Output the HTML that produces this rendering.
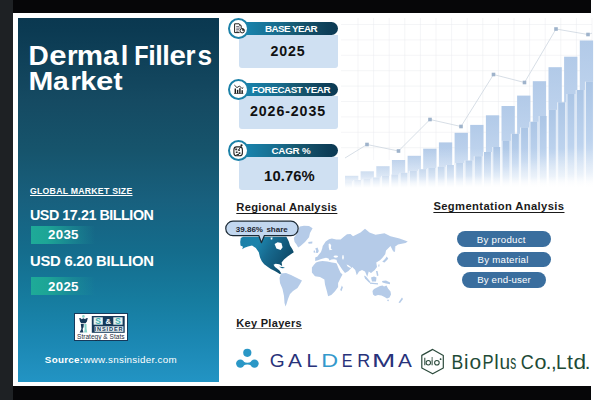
<!DOCTYPE html>
<html><head><meta charset="utf-8">
<style>
*{margin:0;padding:0;box-sizing:border-box}
html,body{width:600px;height:400px;overflow:hidden;background:#fff}
body{position:relative;font-family:"Liberation Sans",sans-serif}
.a{position:absolute}
.t{position:absolute;line-height:1;white-space:nowrap}
.b{font-weight:bold}
svg{position:absolute;left:0;top:0;width:600px;height:400px;overflow:visible}
#lp{left:18px;top:18px;width:201px;height:364px;background:linear-gradient(180deg,#0a3850 0%,#0b3a52 3.3%,#154a62 22.5%,#16546c 36.3%,#18607e 50%,#146c8c 63.7%,#167c9f 77.5%,#1b87b2 88.5%,#2191c0 97.5%,#2294c4 100%)}
.yr{left:31px;width:64px;height:18px;background:linear-gradient(90deg,#1eaa98 0%,#1da596 25%,rgba(28,150,150,0.55) 65%,rgba(28,150,150,0) 100%)}
.pill{height:13px;border-radius:0 6.5px 6.5px 0;background:linear-gradient(90deg,#1a8ab5 0%,#1880a8 12%,#186888 45%,#175a72 57%,#144d66 72%,#0d3e58 90%,#0c3a54 100%)}
.box{background:#cfe0f2;border-radius:0 0 3px 3px}
.circ{width:21px;height:21px;border-radius:50%;border:2.2px solid #1c81a8;background:#fff}
.seg{height:15.6px;border-radius:8px;background:#3a6e9e}
.ul{text-decoration:underline;text-decoration-thickness:1px;text-underline-offset:1.5px;text-decoration-skip-ink:none}
</style></head><body>
<div class="a" style="left:0;top:0;width:13px;height:400px;background:#1e2124"></div>
<div class="a" style="left:13px;top:0;width:578px;height:13px;background:#060608"></div>
<div class="a" style="left:13px;top:386px;width:578px;height:14px;background:#060608"></div>

<svg viewBox="0 0 600 400">
<defs>
<linearGradient id="bg1" x1="0" y1="0" x2="0" y2="1"><stop offset="0" stop-color="#b2cae8"/><stop offset="0.55" stop-color="#c2d6ef"/><stop offset="0.85" stop-color="#dfeaf7"/><stop offset="1" stop-color="#ffffff"/></linearGradient>
<linearGradient id="bg2" x1="0" y1="0" x2="0" y2="1"><stop offset="0" stop-color="#abc5e5"/><stop offset="0.55" stop-color="#bdd3ee"/><stop offset="0.85" stop-color="#dce8f6"/><stop offset="1" stop-color="#ffffff"/></linearGradient>
<linearGradient id="fadeB" gradientUnits="userSpaceOnUse" x1="0" y1="148" x2="0" y2="190"><stop offset="0" stop-color="#fff" stop-opacity="0"/><stop offset="0.33" stop-color="#fff" stop-opacity="0.2"/><stop offset="0.67" stop-color="#fff" stop-opacity="0.45"/><stop offset="0.83" stop-color="#fff" stop-opacity="0.75"/><stop offset="1" stop-color="#fff" stop-opacity="1"/></linearGradient>
<linearGradient id="fadeL" x1="0" y1="0" x2="1" y2="0"><stop offset="0" stop-color="#fff" stop-opacity="1"/><stop offset="1" stop-color="#fff" stop-opacity="0"/></linearGradient>
</defs>
<path d="M358.0,18V160 M373.6,18V160 M389.2,18V160 M404.8,18V160 M420.4,18V160 M436.0,18V160 M451.6,18V160 M467.2,18V160 M482.8,18V160 M498.4,18V160 M514.0,18V160 M529.6,18V160 M545.2,18V160 M560.8,18V160 M576.4,18V160 M592.0,18V160 M341,24.5H592 M341,39.9H592 M341,55.3H592 M341,70.7H592 M341,86.1H592 M341,101.5H592 M341,116.9H592 M341,132.3H592 M341,147.7H592" stroke="#e8eaee" stroke-width="0.8" fill="none" opacity="0.6"/>
<g fill="url(#bg1)">
<rect x="345.0" y="175.8" width="13.3" height="12.2"/>
<rect x="360.6" y="171.3" width="13.3" height="16.7"/>
<rect x="376.3" y="166.2" width="13.3" height="21.8"/>
<rect x="391.9" y="160" width="13.3" height="28.0"/>
<rect x="407.6" y="155.8" width="13.3" height="32.2"/>
<rect x="423.2" y="148.7" width="13.3" height="39.3"/>
<rect x="438.9" y="142.4" width="13.3" height="45.6"/>
<rect x="454.6" y="132.8" width="13.3" height="55.2"/>
<rect x="470.2" y="124.9" width="13.3" height="63.1"/>
<rect x="485.9" y="115.3" width="13.3" height="72.7"/>
<rect x="501.5" y="106" width="13.3" height="82.0"/>
<rect x="517.1" y="95.6" width="13.3" height="92.4"/>
<rect x="532.8" y="81.2" width="13.3" height="106.8"/>
<rect x="548.5" y="67.2" width="13.3" height="120.8"/>
<rect x="564.1" y="56.7" width="13.3" height="131.3"/>
<rect x="579.8" y="40.5" width="13.3" height="147.5"/>
</g>
<g fill="#fff" fill-opacity="0.6">
<rect x="343.9" y="181.3" width="9.1" height="6.7"/>
<rect x="353.2" y="180" width="9.1" height="8.0"/>
<rect x="362.4" y="178.8" width="9.1" height="9.2"/>
<rect x="371.7" y="177.5" width="9.1" height="10.5"/>
<rect x="381.0" y="175.8" width="9.1" height="12.2"/>
<rect x="390.2" y="174.5" width="9.1" height="13.5"/>
<rect x="399.5" y="172.8" width="9.1" height="15.2"/>
<rect x="408.8" y="170.8" width="9.1" height="17.2"/>
<rect x="418.1" y="169.2" width="9.1" height="18.8"/>
<rect x="427.3" y="168" width="9.1" height="20.0"/>
<rect x="436.6" y="166.75" width="9.1" height="21.2"/>
<rect x="445.9" y="165" width="9.1" height="23.0"/>
<rect x="455.1" y="163" width="9.1" height="25.0"/>
<rect x="464.4" y="160.5" width="9.1" height="27.5"/>
<rect x="473.7" y="156.25" width="9.1" height="31.8"/>
<rect x="482.9" y="152" width="9.1" height="36.0"/>
<rect x="492.2" y="147" width="9.1" height="41.0"/>
<rect x="501.5" y="140.75" width="9.1" height="47.2"/>
<rect x="510.8" y="133.75" width="9.1" height="54.2"/>
<rect x="520.0" y="127.5" width="9.1" height="60.5"/>
<rect x="529.3" y="121.7" width="9.1" height="66.3"/>
<rect x="538.6" y="116" width="9.1" height="72.0"/>
<rect x="547.8" y="109.8" width="9.1" height="78.2"/>
<rect x="557.1" y="102.3" width="9.1" height="85.7"/>
<rect x="566.4" y="94" width="9.1" height="94.0"/>
<rect x="575.6" y="90" width="9.1" height="98.0"/>
<rect x="584.9" y="81.6" width="9.1" height="106.4"/>
</g>
<g fill="url(#bg2)">
<rect x="345.0" y="181.3" width="6.9" height="6.7"/>
<rect x="354.3" y="180" width="6.9" height="8.0"/>
<rect x="363.5" y="178.8" width="6.9" height="9.2"/>
<rect x="372.8" y="177.5" width="6.9" height="10.5"/>
<rect x="382.1" y="175.8" width="6.9" height="12.2"/>
<rect x="391.4" y="174.5" width="6.9" height="13.5"/>
<rect x="400.6" y="172.8" width="6.9" height="15.2"/>
<rect x="409.9" y="170.8" width="6.9" height="17.2"/>
<rect x="419.2" y="169.2" width="6.9" height="18.8"/>
<rect x="428.4" y="168" width="6.9" height="20.0"/>
<rect x="437.7" y="166.75" width="6.9" height="21.2"/>
<rect x="447.0" y="165" width="6.9" height="23.0"/>
<rect x="456.2" y="163" width="6.9" height="25.0"/>
<rect x="465.5" y="160.5" width="6.9" height="27.5"/>
<rect x="474.8" y="156.25" width="6.9" height="31.8"/>
<rect x="484.0" y="152" width="6.9" height="36.0"/>
<rect x="493.3" y="147" width="6.9" height="41.0"/>
<rect x="502.6" y="140.75" width="6.9" height="47.2"/>
<rect x="511.9" y="133.75" width="6.9" height="54.2"/>
<rect x="521.1" y="127.5" width="6.9" height="60.5"/>
<rect x="530.4" y="121.7" width="6.9" height="66.3"/>
<rect x="539.7" y="116" width="6.9" height="72.0"/>
<rect x="548.9" y="109.8" width="6.9" height="78.2"/>
<rect x="558.2" y="102.3" width="6.9" height="85.7"/>
<rect x="567.5" y="94" width="6.9" height="94.0"/>
<rect x="576.8" y="90" width="6.9" height="98.0"/>
<rect x="586.0" y="81.6" width="6.9" height="106.4"/>
</g>

<rect x="340" y="148" width="260" height="48" fill="url(#fadeB)"/>
<polyline fill="none" stroke="#cdd6e0" stroke-width="0.8" points="345,158 367,144.5 398.5,151 430,119.5 461,126.5 493.5,74.5 524.5,82.5 556,29 588,34.5 592,33.2"/>
<g fill="#9fb3cb">
<rect x="365.2" y="142.7" width="3.6" height="3.6"/>
<rect x="396.7" y="149.2" width="3.6" height="3.6"/>
<rect x="428.2" y="117.7" width="3.6" height="3.6"/>
<rect x="459.2" y="124.7" width="3.6" height="3.6"/>
<rect x="491.7" y="72.7" width="3.6" height="3.6"/>
<rect x="522.7" y="80.7" width="3.6" height="3.6"/>
<rect x="554.2" y="27.2" width="3.6" height="3.6"/>
<rect x="586.2" y="32.7" width="3.6" height="3.6"/>
</g>

<g fill="#b5cbe8">
<path d="M299.8,226.6 L304,225.8 L309,226 L312.6,228.2 L310,233 L309,237.2 L305,242 L300.5,246 L298.2,247.6 L296.5,244.5 L294.6,242 L293.8,238 L295.5,235.5 L298,232 L298.4,229 Z"/>
<path d="M308.2,242 L312.4,241.6 L312.2,243.6 L308.6,243.8 Z"/>
<path d="M281,273.5 L286,273 L291,275 L296,277.5 L302,280.5 L300,284 L297.5,288 L293,291 L290,294 L288,299 L286.5,304 L285.5,306.5 L284.5,303 L284,296 L282.5,289 L280,283 L279.5,278 Z"/>
<path d="M315.2,260.9 L315.2,257.4 L317.5,256.5 L318.7,254.7 L321,252 L322.2,248.6 L322.7,246 L325.7,241.6 L329,239.2 L331.9,238.4 L334,239 L336.2,239.6 L340.6,239.6 L344.1,236.4 L347,234.2 L350.5,234 L353,236.25 L360.5,232.5 L365,228.75 L369.5,232.5 L375.5,234.75 L384.5,233.25 L390.5,236.25 L399.5,238.5 L407.75,241.5 L405.5,243 L398,244.5 L395,246.75 L393.5,252 L390.5,246 L386,250.5 L385.25,254.25 L382.25,258 L380,260.25 L376.25,262.5 L377,267 L374.75,270 L371,273 L368.75,271.5 L367.25,276.75 L365,271.5 L362,270 L359,271.5 L356.75,275.25 L355.25,270 L352.25,267 L350.6,268.75 L348.1,271.25 L345,273.1 L342.2,269.6 L338.6,264 L337.2,262.3 L336.5,259.8 L334,259.2 L331.5,259.6 L329.5,260.4 L328.5,258.6 L326,257.8 L323,258.4 L320.5,259.2 L318,260.2 Z"/>
<path d="M311.9,267.5 L313.75,265 L316,262.5 L319,261.5 L322.5,261 L327.5,261.6 L331.9,262.4 L335.3,262.9 L336.6,263.6 L338.4,268 L340.4,272.4 L342.5,274.4 L340.6,278.1 L338.1,283.1 L338.1,286.9 L335,291.25 L331.25,295 L328.1,296.25 L326.9,291.25 L325,284.4 L324.4,279.4 L320,276.9 L315,276.25 L311.9,272.5 Z"/>
<path d="M341.9,285.6 L342.8,287.5 L341.5,291.25 L340.2,290 Z"/>
<path d="M315.2,248.6 L317.5,247.6 L318.8,251 L317.8,253 L315.6,252.8 L316.2,250.5 Z"/>
<path d="M313.6,250.8 L315,250.6 L315.1,252.6 L313.8,252.8 Z"/>
<path d="M372.5,291 L374,289 L377,287.5 L380,286 L382.5,285.5 L384,286.5 L386.5,285.5 L388,288.5 L390.5,291.5 L391,294.5 L389.5,297.5 L387,298.5 L384.5,297 L381.5,295.5 L378,295 L375,296 L373,294.5 Z"/>
<path d="M387.3,299.8 L389,299.8 L388.5,301.2 L387.3,301 Z"/>
<path d="M402,297.5 L403,299 L400,303 L398.5,302.5 Z"/>
<path d="M364,275.5 L366,276.5 L370.5,282 L369.5,283 L365,278.5 Z"/>
<path d="M370,282.5 L378,283.2 L378,284.4 L370,283.8 Z"/>
<path d="M371,277.5 L374,276.5 L376.5,277.5 L376,281.5 L372,281.5 Z"/>
<path d="M382,281 L386,280.5 L390,282.5 L390,284.2 L386,283.5 L382.5,282.5 Z"/>
<path d="M376,271 L377.5,271 L378.5,275.5 L377,276 Z"/>
<path d="M386.75,256.5 L388.25,258.75 L384.5,262.5 L382.25,261.75 L385,259 Z"/>
<path d="M394.3,246.8 L395.3,247 L395,252 L394,251.5 Z"/>
<path d="M378.5,264.5 L379.5,264.5 L379.2,266.8 L378.3,266.5 Z"/>
</g>
<g fill="#fff">
<path d="M328.6,244 L330,243.5 L331.2,245.5 L330.8,248.5 L332.5,249.5 L329.5,250.2 L328.8,247.5 Z"/>
<ellipse cx="335.8" cy="256.6" rx="2.3" ry="1.1"/>
<ellipse cx="343" cy="257.3" rx="0.8" ry="2.4"/>
<path d="M346.5,264.6 L348.5,265.2 L351.2,267.2 L350.4,268 L347.6,266.4 Z"/>
</g>
<defs><linearGradient id="nag" x1="0" y1="0" x2="1" y2="0.4"><stop offset="0" stop-color="#1b7fa7"/><stop offset="0.35" stop-color="#1c84ac"/><stop offset="0.6" stop-color="#17698e"/><stop offset="1" stop-color="#0e4b6a"/></linearGradient></defs>
<path fill="url(#nag)" fill-rule="evenodd" d="M240.8,238 L243,236.8 L286.4,236.8 L288.8,241.4 L290,245.6 L292.4,249.2 L293.8,252.2 L291.2,254 L287.6,256.4 L284,259.4 L281.6,262.4 L282.2,266 L279.2,264.2 L275.6,263.8 L273.5,264.8 L275,267 L277,268.6 L279.5,270.5 L281.3,273.6 L279.8,273.9 L277.4,272.6 L274.4,270.8 L270.8,269 L267.2,266.6 L264.2,264.2 L261.8,261.2 L260,257.6 L258.8,252.2 L255.8,248 L252,245.4 L248,246.4 L244.5,247.8 L242.2,249.2 L243,246.8 L240.5,245.5 L240.2,242 Z M274.6,244 L277.6,242.2 L281.4,243 L282.6,247.2 L280.6,250 L276.4,248.6 Z M270.6,237.6 L272.6,237.6 L272.2,239.6 L270.8,239.4 Z"/>
<path fill="#17688d" d="M279,266.8 L283,267 L285,268 L282,268.3 Z"/>

</svg>

<div id="lp" class="a"></div>
<svg viewBox="0 0 600 400">
<g font-family="Liberation Sans" font-weight="bold" font-size="27.18" fill="#fff">
<text transform="translate(28.62,65.0) scale(1.032,1)">D</text>
<text transform="translate(49.29,65.0) scale(1.143,1)">e</text>
<text transform="translate(67.00,65.0) scale(1.003,1)">r</text>
<text transform="translate(76.85,65.0) scale(1.087,1)">m</text>
<text transform="translate(102.98,65.0) scale(1.035,1)">a</text>
<text transform="translate(120.74,65.0) scale(1.000,1)">l</text>
<text transform="translate(134.23,65.0) scale(0.863,1)">F</text>
<text transform="translate(148.29,65.0) scale(1.000,1)">i</text>
<text transform="translate(155.24,65.0) scale(1.000,1)">l</text>
<text transform="translate(162.14,65.0) scale(1.000,1)">l</text>
<text transform="translate(169.55,65.0) scale(1.082,1)">e</text>
<text transform="translate(185.61,65.0) scale(0.943,1)">r</text>
<text transform="translate(197.48,65.0) scale(0.966,1)">s</text>
</g>
<g font-family="Liberation Sans" font-weight="bold" font-size="26.31" fill="#fff">
<text transform="translate(28.51,90.3) scale(1.131,1)">M</text>
<text transform="translate(52.98,90.3) scale(1.069,1)">a</text>
<text transform="translate(70.42,90.3) scale(1.024,1)">r</text>
<text transform="translate(80.18,90.3) scale(1.100,1)">k</text>
<text transform="translate(95.99,90.3) scale(1.181,1)">e</text>
<text transform="translate(113.47,90.3) scale(1.035,1)">t</text>
</g>
</svg>

<div class="t b ul" style="text-underline-offset:0.7px;left:30px;top:186.6px;font-size:8.7px;letter-spacing:0.26px;color:#fff">GLOBAL MARKET SIZE</div>
<div class="t b" style="left:30px;top:208px;font-size:14.3px;letter-spacing:-0.45px;color:#fff">USD 17.21 BILLION</div>
<div class="a yr" style="top:226px"></div>
<div class="t b" style="left:48px;top:228.2px;font-size:13.3px;letter-spacing:0.3px;color:#fff">2035</div>
<div class="t b" style="left:30px;top:254px;font-size:14.8px;letter-spacing:-0.24px;color:#fff">USD 6.20 BILLION</div>
<div class="a yr" style="top:277px"></div>
<div class="t b" style="left:48px;top:279.5px;font-size:13.3px;letter-spacing:0.3px;color:#fff">2025</div>

<div class="a" style="left:74px;top:313.4px;width:54px;height:27.6px;background:#fff;border:1px solid #153a5c"></div>
<svg viewBox="0 0 600 400">
<rect x="91.8" y="316" width="32.9" height="16.8" fill="#163a5a"/>
<rect x="93.6" y="317.3" width="9.2" height="7.4" fill="#e3f1f1"/>
<rect x="113.3" y="317.3" width="9.3" height="7.4" fill="#e3f1f1"/>
<text x="98.2" y="323.9" font-family="Liberation Sans" font-weight="bold" font-size="8.6" fill="#3fb0b0" text-anchor="middle">S</text>
<text x="117.9" y="323.9" font-family="Liberation Sans" font-weight="bold" font-size="8.6" fill="#3fb0b0" text-anchor="middle">S</text>
<text x="108.2" y="323.6" font-family="Liberation Sans" font-weight="bold" font-size="7.5" fill="#ffffff" text-anchor="middle">&amp;</text>
<rect x="94.6" y="326.3" width="28.8" height="5.5" fill="#e8f0f2"/>
<text x="109" y="331.2" font-family="Liberation Sans" font-weight="bold" font-size="5.6" fill="#163a5a" text-anchor="middle" letter-spacing="0.9">INSIDER</text>
<text x="77" y="339" font-family="Liberation Sans" font-size="6.3" fill="#1c2c3e" textLength="47.5" lengthAdjust="spacingAndGlyphs">Strategy &amp; Stats</text>
<circle cx="83.4" cy="316.4" r="1.3" fill="#86d3c9"/>
<path fill="#163a5a" d="M79.2,318 L80.8,318.3 L81.6,319.3 L83.4,318.2 L85.2,319.3 L86,318.3 L87.8,318 L86.9,321.5 L85.6,323.3 L81.2,323.3 L80,321.5 Z"/>
<path fill="#163a5a" d="M80.8,324 L83.8,324 L83.6,327 L82.6,329 L83.4,332.4 L79.6,332.4 L81.4,329 Z"/>
<path fill="#86d3c9" d="M84.3,324 L86.5,324 L86.6,329 L87.3,332.4 L84.1,332.4 L84.7,329 Z"/>
</svg>
<div class="t" style="left:44.8px;top:354.6px;font-size:9.8px;letter-spacing:0.3px;color:#fff"><b>Source:</b>www.snsinsider.com</div>

<div class="a pill" style="left:238px;top:21.5px;width:99.5px"></div>
<div class="a box" style="left:238.5px;top:34.5px;width:99px;height:33.5px"></div>
<div class="a circ" style="left:227.5px;top:17.6px"></div>
<div class="t b" style="left:238px;width:106px;text-align:center;top:24px;font-size:9.8px;letter-spacing:-0.55px;color:#fff">BASE YEAR</div>
<div class="t b" style="left:238.5px;width:99px;text-align:center;top:43.5px;font-size:14.2px;letter-spacing:0.8px;color:#111">2025</div>

<div class="a pill" style="left:238px;top:82.5px;width:99.5px"></div>
<div class="a box" style="left:238.5px;top:95.5px;width:99px;height:33.5px"></div>
<div class="a circ" style="left:227.6px;top:78.6px"></div>
<div class="t b" style="left:238px;width:106px;text-align:center;top:85px;font-size:9.8px;letter-spacing:-0.4px;color:#fff">FORECAST YEAR</div>
<div class="t b" style="left:238.5px;width:99px;text-align:center;top:103.7px;font-size:14.2px;letter-spacing:0.9px;color:#111">2026-2035</div>

<div class="a pill" style="left:238px;top:143.8px;width:99.5px"></div>
<div class="a box" style="left:238.5px;top:156.8px;width:99px;height:33px"></div>
<div class="a circ" style="left:227.8px;top:139.7px"></div>
<div class="t b" style="left:238px;width:106px;text-align:center;top:146.3px;font-size:9.8px;letter-spacing:-0.2px;color:#fff">CAGR %</div>
<div class="t b" style="left:240px;width:99px;text-align:center;top:168.5px;font-size:14.8px;letter-spacing:0.1px;color:#111">10.76%</div>

<svg viewBox="0 0 600 400">
<!-- base year icon -->
<path d="M241.2,28.2 L241.2,25.8 L239.2,23.8 L234.6,23.8 L234.6,32.6 L239.6,32.6" fill="none" stroke="#222" stroke-width="1"/>
<path d="M239.2,23.8 L241.2,25.8 L239.2,25.8 Z" fill="#222"/>
<path d="M236.2,26.5 H239.3 M236.2,28.1 H240.2 M236.2,29.7 H239.2 M236.2,31.2 H238.5" stroke="#6a6470" stroke-width="0.9"/>
<circle cx="242.2" cy="30.7" r="2.2" fill="#fff" stroke="#222" stroke-width="1"/>
<path d="M242.2,30.7 L242.2,28.5 A2.2,2.2 0 0 1 244.4,30.7 Z" fill="#222"/>
<!-- forecast icon -->
<g fill="#1a1a1a">
<rect x="234.6" y="88.5" width="1.4" height="5"/><rect x="236.9" y="89.8" width="1.4" height="3.7"/><rect x="239.2" y="88.2" width="1.4" height="5.3"/><rect x="241.5" y="90.2" width="1.4" height="3.3"/>
<rect x="234" y="93.3" width="9.3" height="0.6"/>
</g>
<polyline fill="none" stroke="#1a1a1a" stroke-width="0.9" points="234.3,85 237,87.6 239.5,86 242,88.5 243.3,87.5"/>
<!-- cagr icon -->
<rect x="233.9" y="146.9" width="8.5" height="8.9" rx="2.8" fill="none" stroke="#222" stroke-width="1.1"/>
<path d="M235.2,148.6h2v1.6h-2z M238.3,149.4h1.6v1.6h-1.6z M235.8,151.5h1.8v1.6h-1.8z M238.6,152.2h1.8v1.8h-1.8z M236.5,154h2.5v1.5h-2.5z" fill="#333"/>
<path d="M238.3,150.3 L241.2,146.2" stroke="#222" stroke-width="0.9"/>
<circle cx="241.5" cy="145.3" r="1.1" fill="#222"/>
</svg>

<svg viewBox="0 0 600 400">
<path d="M233,221.2 L290.9,221.2 A7.25,7.25 0 0 1 290.9,235.7 L264.3,235.7 L261.4,242.7 L258.9,235.7 L233,235.7 A7.25,7.25 0 0 1 233,221.2 Z" fill="#c2d7ef" stroke="#1c2a35" stroke-width="1.2" stroke-linejoin="round"/>
<text x="261.8" y="231.6" font-family="Liberation Sans" font-weight="bold" font-size="8" fill="#1c2530" text-anchor="middle" word-spacing="1.2">39.86% share</text>
<!-- galderma dots -->
<g fill="#2a97c6">
<circle cx="247.3" cy="352.8" r="4.1"/><circle cx="240.3" cy="363.6" r="4.2"/><circle cx="254.5" cy="363.6" r="4.2"/>
<path d="M243.5,361.8 Q247.4,363.8 251.3,361.8 L251.3,365.4 Q247.4,363.4 243.5,365.4 Z"/>
</g>
<g font-family="Liberation Sans" font-size="18.75">
<text transform="translate(269.64,366.6) scale(1.021,1)" fill="#28327a">G</text>
<text transform="translate(288.06,366.6) scale(1.110,1)" fill="#28327a">A</text>
<text transform="translate(306.46,366.6) scale(1.064,1)" fill="#28327a">L</text>
<text transform="translate(321.19,366.6) scale(1.243,1)" fill="#3399cc">D</text>
<text transform="translate(341.68,366.6) scale(0.861,1)" fill="#28327a">E</text>
<text transform="translate(357.13,366.6) scale(0.957,1)" fill="#28327a">R</text>
<text transform="translate(371.95,366.6) scale(1.495,1)" fill="#28327a">M</text>
<text transform="translate(397.96,366.6) scale(1.106,1)" fill="#28327a">A</text>
</g>
<g font-family="Liberation Sans" font-size="20.20" fill="#1e4a36">
<text transform="translate(451.46,368.6) scale(0.870,1)">B</text>
<text transform="translate(464.01,368.6) scale(1.000,1)">i</text>
<text transform="translate(469.52,368.6) scale(1.038,1)">o</text>
<text transform="translate(482.44,368.6) scale(0.818,1)">P</text>
<text transform="translate(494.30,368.6) scale(1.000,1)">l</text>
<text transform="translate(499.56,368.6) scale(0.944,1)">u</text>
<text transform="translate(510.37,368.6) scale(0.590,1)">s</text>
<text transform="translate(520.69,368.6) scale(0.891,1)">C</text>
<text transform="translate(534.49,368.6) scale(1.069,1)">o</text>
<text transform="translate(545.79,368.6) scale(1.000,1)">.</text>
<text transform="translate(550.89,368.6) scale(1.000,1)">,</text>
<text transform="translate(556.04,368.6) scale(0.943,1)">L</text>
<text transform="translate(566.88,368.6) scale(1.047,1)">t</text>
<text transform="translate(573.45,368.6) scale(1.123,1)">d</text>
<text transform="translate(584.79,368.6) scale(1.000,1)">.</text>
</g>
<!-- bioplus hex -->
<path d="M432.7,349.4 L443.3,355.4 L443.3,368 L432.7,373.8 L421.8,368 L421.8,355.4 Z" fill="none" stroke="#2b4a3b" stroke-width="1.2" stroke-linejoin="round"/>
<g fill="none" stroke="#2b4a3b" stroke-width="1.05">
<path d="M424.8,357.8 V365.3 M432.1,359.3 V365.3 M439.7,359.2 H441.5 M440.6,358.3 V360.1"/>
<circle cx="428.3" cy="362.7" r="2.2"/><circle cx="436.9" cy="362.7" r="2.3"/>
</g>
<circle cx="432.1" cy="357.9" r="0.75" fill="#2b4a3b"/>
</svg>

<div class="t b ul" style="left:236.3px;top:201.5px;font-size:11.2px;letter-spacing:0.3px;color:#1a1a1a">Regional Analysis</div>
<div class="t b ul" style="left:433.4px;top:201.3px;font-size:11.2px;letter-spacing:0.4px;color:#1a1a1a">Segmentation Analysis</div>
<div class="t b ul" style="left:236.3px;top:317.7px;font-size:11px;letter-spacing:0.3px;color:#1a1a1a;text-underline-offset:0.5px;text-decoration-color:#777">Key Players</div>

<div class="a seg" style="left:457px;top:231px;width:94.3px"></div>
<div class="a seg" style="left:457px;top:251.6px;width:94.3px"></div>
<div class="a seg" style="left:462px;top:272.2px;width:83.8px"></div>
<div class="t" style="left:476.8px;top:234.5px;font-size:9.7px;letter-spacing:0.27px;color:#fff">By product</div>
<div class="t" style="left:477.5px;top:254.8px;font-size:9.7px;letter-spacing:0.24px;color:#fff">By material</div>
<div class="t" style="left:477.2px;top:275.3px;font-size:9.7px;letter-spacing:0.14px;color:#fff">By end-user</div>

</body></html>
